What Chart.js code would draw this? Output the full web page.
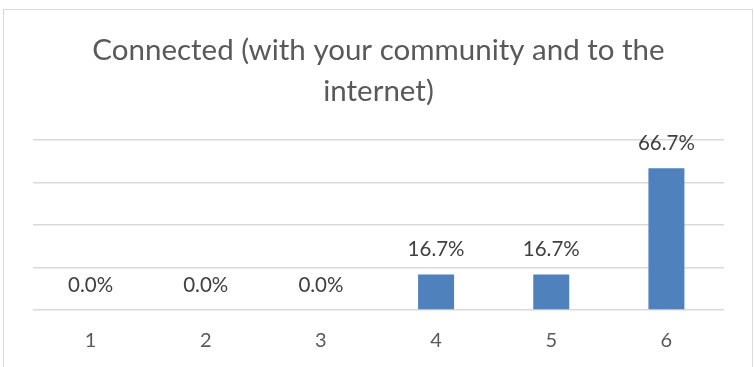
<!DOCTYPE html>
<html>
<head>
<meta charset="utf-8">
<script src="https://cdn.jsdelivr.net/npm/chart.js@4/dist/chart.umd.min.js"></script>
<style>
  body { margin: 0; background: #fff; }
  .frame { position: absolute; left: 3px; top: 9px; width: 748px; height: 380px; border: 1px solid #d9d9d9; }
  .wrap { position: absolute; left: 0; top: 0; width: 754px; height: 367px; }
</style>
</head>
<body>
<div class="frame"></div>
<div class="wrap"><canvas id="chart"></canvas></div>
<script>
const categories = ['1', '2', '3', '4', '5', '6'];
const shares = [0.0, 0.0, 0.0, 16.7, 16.7, 66.7];
const titleLines = ['Connected (with your community and to the', 'internet)'];

// percentage text above each bar
const valueLabels = {
  id: 'valueLabels',
  afterDatasetsDraw(chart) {
    const c = chart.ctx;
    const meta = chart.getDatasetMeta(0);
    c.save();
    c.font = '20.5px Lato';
    c.fillStyle = '#404040';
    c.textAlign = 'center';
    c.textBaseline = 'middle';
    meta.data.forEach((bar, i) => {
      c.fillText(shares[i].toFixed(1) + '%', bar.x, bar.y - 25);
    });
    c.restore();
  }
};

new Chart(document.getElementById('chart'), {
  type: 'bar',
  data: {
    labels: categories,
    datasets: [{
      data: shares,
      backgroundColor: '#4f81bd',
      borderWidth: 0,
      categoryPercentage: 1,
      barPercentage: 0.3125
    }]
  },
  options: {
    responsive: true,
    maintainAspectRatio: false,
    animation: false,
    layout: { padding: { left: 33, right: 30, top: 0, bottom: 14 } },
    plugins: {
      legend: { display: false },
      tooltip: { enabled: false },
      title: {
        display: true,
        text: titleLines,
        color: '#595959',
        font: { family: 'Lato', size: 29.5, weight: 'normal', lineHeight: 41 / 29.5 },
        padding: { top: 30, bottom: 28 }
      }
    },
    scales: {
      x: {
        grid: { display: false, drawTicks: false },
        border: { display: false },
        ticks: { color: '#595959', font: { family: 'Lato', size: 20 }, padding: 19 },
        afterFit(scale) { scale.height = 43; }
      },
      y: {
        min: 0,
        max: 80,
        ticks: { display: false, stepSize: 20 },
        grid: { color: '#d9d9d9', lineWidth: 1.5, drawTicks: false },
        border: { display: false }
      }
    }
  },
  plugins: [valueLabels]
});
</script>
</body>
</html>
